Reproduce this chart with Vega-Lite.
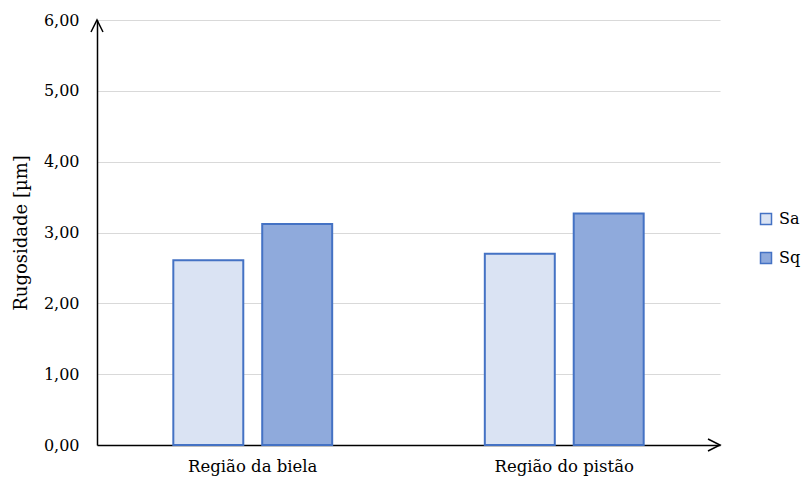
{
  "$schema": "https://vega.github.io/schema/vega-lite/v6.json",
  "width": 623,
  "height": 425,
  "autosize": {"type": "none"},
  "padding": {"left": 97, "top": 20, "right": 81, "bottom": 34},
  "config": {
    "locale": {"number": {"decimal": ",", "thousands": ".", "grouping": [3], "currency": ["R$", ""]}},
    "view": {"stroke": null},
    "font": "DejaVu Serif"
  },
  "layer": [
    {
      "data": {
        "values": [
          {"regiao": "Região da biela", "serie": "Sa", "valor": 2.61},
          {"regiao": "Região da biela", "serie": "Sq", "valor": 3.12},
          {"regiao": "Região do pistão", "serie": "Sa", "valor": 2.70},
          {"regiao": "Região do pistão", "serie": "Sq", "valor": 3.27}
        ]
      },
      "mark": {"type": "bar", "stroke": "#4472C4", "strokeWidth": 2},
      "encoding": {
        "x": {
          "field": "regiao", "type": "nominal", "sort": null,
          "scale": {"paddingInner": 0.49, "paddingOuter": 0.245},
          "axis": {
            "title": null, "labelAngle": 0, "ticks": false, "grid": false,
            "domainColor": "#000", "domainWidth": 1.5,
            "labelFontSize": 16.5, "labelColor": "#000", "labelPadding": 13
          }
        },
        "xOffset": {"field": "serie", "type": "nominal", "scale": {"paddingInner": 0.213, "paddingOuter": 0}},
        "y": {
          "field": "valor", "type": "quantitative",
          "scale": {"domain": [0, 6], "nice": false},
          "axis": {
            "title": "Rugosidade [µm]", "titleFontSize": 18, "titleFontWeight": "normal",
            "titleColor": "#000", "titlePadding": 13,
            "values": [0, 1, 2, 3, 4, 5, 6], "format": ".2f",
            "labelFontSize": 16, "labelColor": "#000", "labelPadding": 18,
            "ticks": false, "domainColor": "#000", "domainWidth": 1.5,
            "gridColor": "#D9D9D9", "gridWidth": 1
          }
        },
        "color": {
          "field": "serie", "type": "nominal",
          "scale": {"domain": ["Sa", "Sq"], "range": ["#DAE3F3", "#8FAADC"]},
          "legend": {
            "title": null, "orient": "none", "legendX": 661, "legendY": 191,
            "symbolType": "square", "symbolSize": 121,
            "symbolStrokeColor": "#4472C4", "symbolStrokeWidth": 1.5,
            "labelFontSize": 16, "labelColor": "#000", "rowPadding": 21,
            "labelOffset": 5, "padding": 0
          }
        }
      }
    },
    {
      "data": {"values": [{"eixo": "y"}]},
      "mark": {"type": "point", "shape": "M-1,2L0,0L1,2", "size": 144, "filled": false, "stroke": "#000", "strokeWidth": 1.5, "opacity": 1},
      "encoding": {
        "x": {"value": 0},
        "y": {"datum": 6, "type": "quantitative"}
      }
    },
    {
      "data": {"values": [{"eixo": "x"}]},
      "mark": {"type": "point", "shape": "M-1,2L0,0L1,2", "angle": 90, "size": 144, "filled": false, "stroke": "#000", "strokeWidth": 1.5, "opacity": 1},
      "encoding": {
        "x": {"value": "width"},
        "y": {"datum": 0, "type": "quantitative"}
      }
    }
  ]
}
